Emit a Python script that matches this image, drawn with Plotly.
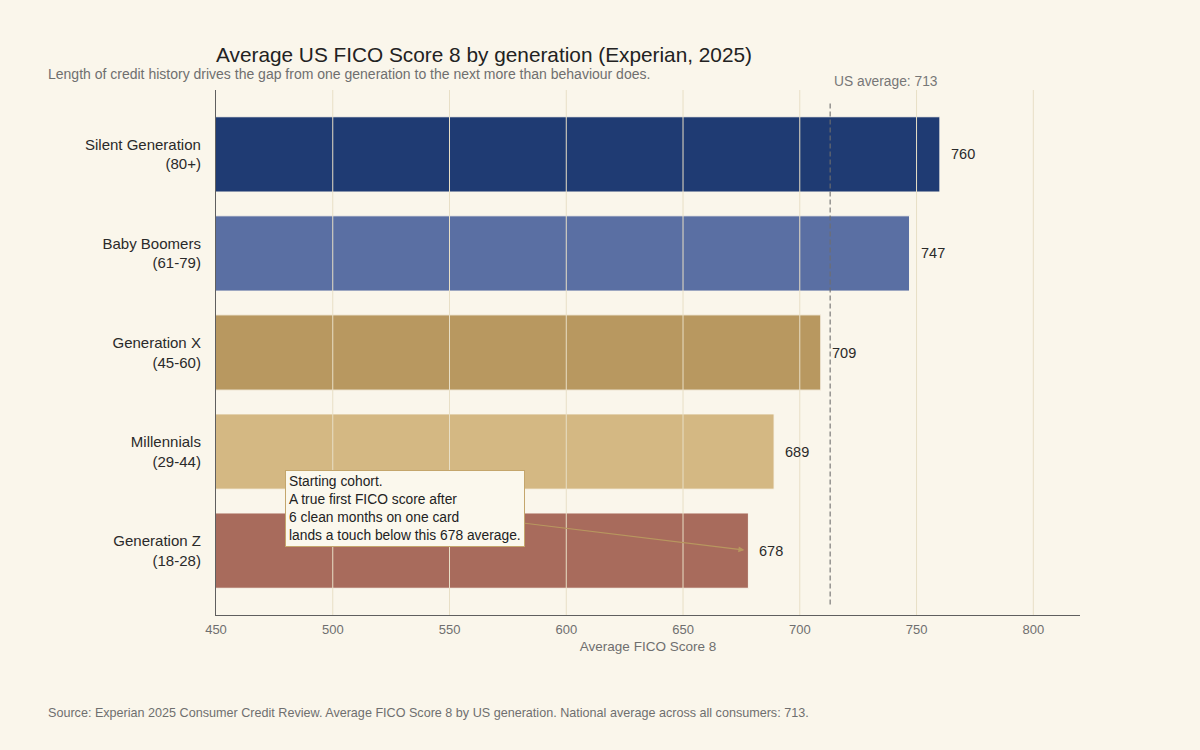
import plotly.graph_objects as go

# data
generations = [
    "Silent Generation<br>(80+)",
    "Baby Boomers<br>(61-79)",
    "Generation X<br>(45-60)",
    "Millennials<br>(29-44)",
    "Generation Z<br>(18-28)",
]
scores = [760, 747, 709, 689, 678]
bar_colors = ["#1f3b73", "#5a6fa3", "#b89860", "#d4b883", "#a86b5c"]
us_average = 713
x_ticks = [450, 500, 550, 600, 650, 700, 750, 800]

bg = "#faf6eb"
font = "Liberation Sans, Arial, sans-serif"

fig = go.Figure()

fig.add_trace(
    go.Bar(
        x=scores,
        y=generations,
        orientation="h",
        width=0.76,
        marker=dict(color=bar_colors, line=dict(color=bg, width=1)),
        hoverinfo="x+y",
        showlegend=False,
    )
)

# grid lines drawn over the bars, like the reference
for t in x_ticks[1:]:
    fig.add_shape(
        type="line", xref="x", yref="paper",
        x0=t, x1=t, y0=0, y1=1,
        line=dict(color="#e8dfc6", width=1),
        layer="above",
    )

# value labels just past the bar ends
for g, s in zip(generations, scores):
    fig.add_annotation(
        x=s, y=g, text=str(s), showarrow=False,
        xanchor="left", xshift=9,
        font=dict(size=14.5, color="#2a2a2a"),
    )

# national average reference line
fig.add_shape(
    type="line", xref="x", yref="paper",
    x0=us_average, x1=us_average, y0=0.02, y1=0.98,
    line=dict(color="#6f6f6f", width=1.1, dash="5px,3px"),
)
fig.add_annotation(
    x=us_average, xref="x", y=1.017, yref="paper",
    text=f"US average: {us_average}", showarrow=False,
    xanchor="left", yanchor="middle", xshift=2,
    font=dict(size=13.8, color="#777777"),
)

# callout on Gen Z
fig.add_annotation(
    x=scores[-1], y=generations[-1],
    text="Starting cohort.<br>A true first FICO score after<br>6 clean months on one card<br>"
         f"lands a touch below this {scores[-1]} average.",
    align="left", showarrow=True,
    arrowhead=2, arrowsize=1, arrowwidth=1.2, arrowcolor="#b8975f",
    standoff=4,
    ax=-343, ay=-42,
    bgcolor="#fbf8ed", bordercolor="#c4a66c", borderwidth=1, borderpad=3,
    font=dict(size=13.8, color="#222222"),
)

# subtitle and source
fig.add_annotation(
    x=-0.1967, xref="paper", y=1.0305, yref="paper",
    text="Length of credit history drives the gap from one generation to the next more than behaviour does.",
    showarrow=False, xanchor="left", yanchor="middle",
    font=dict(size=14, color="#6f6f6f"),
)
fig.add_annotation(
    x=-0.1967, xref="paper", y=-0.1867, yref="paper",
    text="Source: Experian 2025 Consumer Credit Review. Average FICO Score 8 by US generation. "
         f"National average across all consumers: {us_average}.",
    showarrow=False, xanchor="left", yanchor="middle",
    font=dict(size=12.6, color="#6f6f6f"),
)

fig.update_layout(
    width=1200,
    height=750,
    paper_bgcolor=bg,
    plot_bgcolor=bg,
    font=dict(family=font, color="#2a2a2a"),
    margin=dict(l=216, r=120, t=90, b=135),
    title=dict(
        text="Average US FICO Score 8 by generation (Experian, 2025)",
        xref="container", x=216 / 1200, xanchor="left",
        yref="container", y=1 - 55 / 750, yanchor="middle",
        font=dict(size=20.8, color="#222222"),
    ),
    xaxis=dict(
        range=[450, 820],
        tickvals=x_ticks,
        showgrid=False,
        showline=True, linecolor="#5f5f5f", linewidth=1.2,
        zeroline=False,
        ticks="", ticklabelstandoff=2,
        tickfont=dict(size=13, color="#6f6f6f"),
        title=dict(text="Average FICO Score 8", font=dict(size=13.5, color="#6f6f6f"), standoff=5),
    ),
    yaxis=dict(
        range=[4.65, -0.65],
        showgrid=False,
        showline=True, linecolor="#5f5f5f", linewidth=1.2,
        ticks="",
        ticklabelstandoff=11,
        tickfont=dict(size=15, color="#2a2a2a"),
    ),
)

fig.write_html(
    "out.html",
    config={"displayModeBar": False},
    post_script=f"document.body.style.margin='0';document.body.style.background='{bg}';",
)
